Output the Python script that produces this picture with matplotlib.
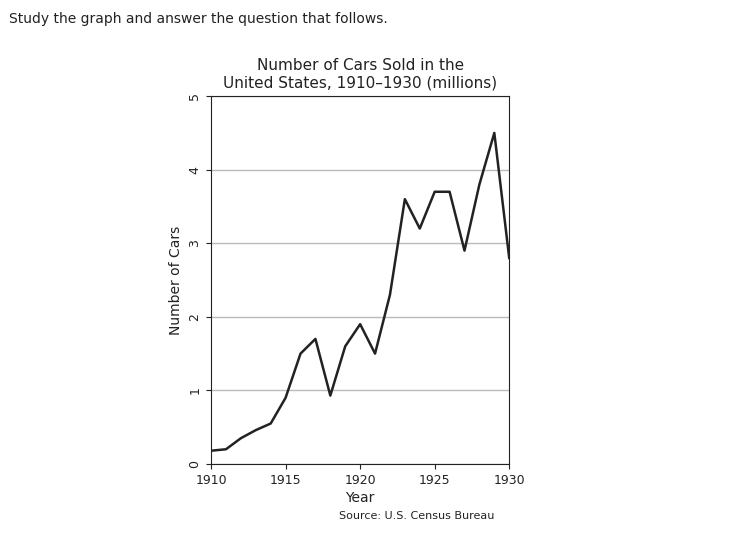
import matplotlib.pyplot as plt

years = list(range(1910, 1931))
cars = [0.18, 0.2, 0.35, 0.46, 0.55, 0.9, 1.5, 1.7, 0.93, 1.6, 1.9, 1.5,
        2.3, 3.6, 3.2, 3.7, 3.7, 2.9, 3.8, 4.5, 2.8]
x_ticks = [1910, 1915, 1920, 1925, 1930]
y_ticks = [0, 1, 2, 3, 4, 5]

fig = plt.figure(figsize=(7.38, 5.37), dpi=100)
fig.text(0.012, 0.965, 'Study the graph and answer the question that follows.',
         fontsize=10, color='#222222', va='center')

ax = fig.add_axes([0.286, 0.136, 0.404, 0.685])
ax.plot(years, cars, color='#222222', linewidth=1.8)
ax.set_xlim(1910, 1930)
ax.set_ylim(0, 5)
ax.set_xticks(x_ticks)
ax.set_yticks(y_ticks)
ax.set_yticklabels([str(v) for v in y_ticks], rotation=90, va='center')
ax.yaxis.grid(True, color='#bbbbbb', linewidth=1)
ax.set_axisbelow(True)
ax.tick_params(labelsize=9, colors='#222222')
for s in ax.spines.values():
    s.set_color('#222222')

ax.set_title('Number of Cars Sold in the\nUnited States, 1910\u20131930 (millions)',
             fontsize=11, color='#222222', pad=6)
ax.set_xlabel('Year', fontsize=10, color='#222222', labelpad=3)
ax.set_ylabel('Number of Cars', fontsize=10, color='#222222')
fig.text(0.46, 0.033, 'Source: U.S. Census Bureau', fontsize=8, color='#222222')

fig.savefig('out.png', dpi=100)
